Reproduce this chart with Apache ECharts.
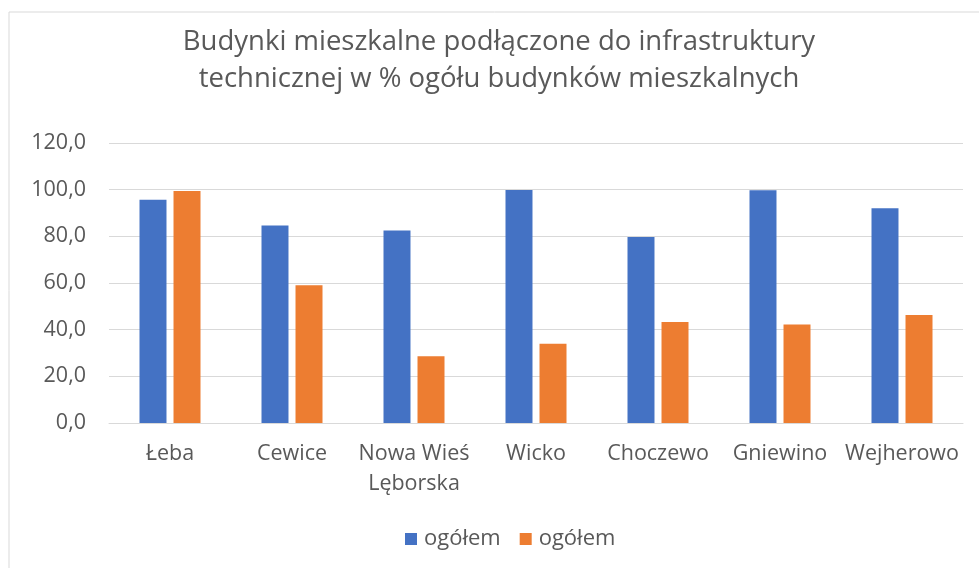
<!DOCTYPE html>
<html>
<head>
<meta charset="utf-8">
<script src="https://cdn.jsdelivr.net/npm/echarts@6/dist/echarts.min.js"></script>
<style>
  html, body { margin: 0; padding: 0; background: #fff; }
  #chart { width: 979px; height: 568px; }
</style>
</head>
<body>
<div id="chart"></div>
<script>
const categories = ['Łeba', 'Cewice', 'Nowa Wieś Lęborska', 'Wicko', 'Choczewo', 'Gniewino', 'Wejherowo']
const seriesNames = ['ogółem', 'ogółem']
const blueValues = [95.7, 84.6, 82.5, 99.9, 79.7, 99.8, 92.0]
const orangeValues = [99.4, 59.0, 28.6, 34.0, 43.3, 42.2, 46.3]
const yTicks = [0, 20, 40, 60, 80, 100, 120]

const font = "'Open Sans', 'Noto Sans', sans-serif"
const textColor = '#595959'

const chart = echarts.init(document.getElementById('chart'))
chart.setOption({
  animation: false,
  textStyle: { fontFamily: font },
  title: {
    text: 'Budynki mieszkalne podłączone do infrastruktury\ntechnicznej w % ogółu budynków mieszkalnych',
    left: 494,
    top: 19,
    textAlign: 'center',
    textStyle: {
      fontFamily: font,
      fontSize: 27.5,
      fontWeight: 'normal',
      color: textColor,
      lineHeight: 37
    }
  },
  graphic: [{
    type: 'rect',
    shape: { x: 9, y: 12, width: 1000, height: 600 },
    style: { fill: 'none', stroke: '#D9D9D9', lineWidth: 1 },
    silent: true
  }],
  legend: {
    data: [
      { name: 's0', icon: 'rect' },
      { name: 's1', icon: 'rect' }
    ],
    formatter: (name) => seriesNames[name === 's0' ? 0 : 1],
    top: 523,
    left: 400,
    itemWidth: 12,
    itemHeight: 12,
    itemGap: 19,
    textStyle: { fontSize: 22, color: textColor, fontFamily: font, padding: [0, 0, 0, 2] }
  },
  grid: {
    left: 109,
    right: 16,
    top: 143,
    bottom: 145
  },
  xAxis: {
    type: 'category',
    data: categories,
    axisTick: { show: false },
    axisLine: { lineStyle: { color: '#D9D9D9', width: 1 } },
    axisLabel: {
      interval: 0,
      margin: 16,
      fontSize: 21.5,
      color: textColor,
      lineHeight: 30,
      formatter: (v) => v.length > 12 ? v.replace(/ (\S+)$/, '\n$1') : v
    }
  },
  yAxis: {
    type: 'value',
    min: yTicks[0],
    max: yTicks[yTicks.length - 1],
    interval: 20,
    axisLine: { show: false },
    axisTick: { show: false },
    splitLine: { lineStyle: { color: '#D9D9D9', width: 1 } },
    axisLabel: {
      margin: 23,
      fontSize: 21.5,
      color: textColor,
      formatter: (v) => v.toFixed(1).replace('.', ',')
    }
  },
  series: [{
    name: 's0',
    type: 'bar',
    data: blueValues,
    barGap: '26%',
    barCategoryGap: '50%',
    itemStyle: { color: '#4472C4' }
  }, {
    name: 's1',
    type: 'bar',
    data: orangeValues,
    barGap: '26%',
    barCategoryGap: '50%',
    itemStyle: { color: '#ED7D31' }
  }]
})
</script>
</body>
</html>
